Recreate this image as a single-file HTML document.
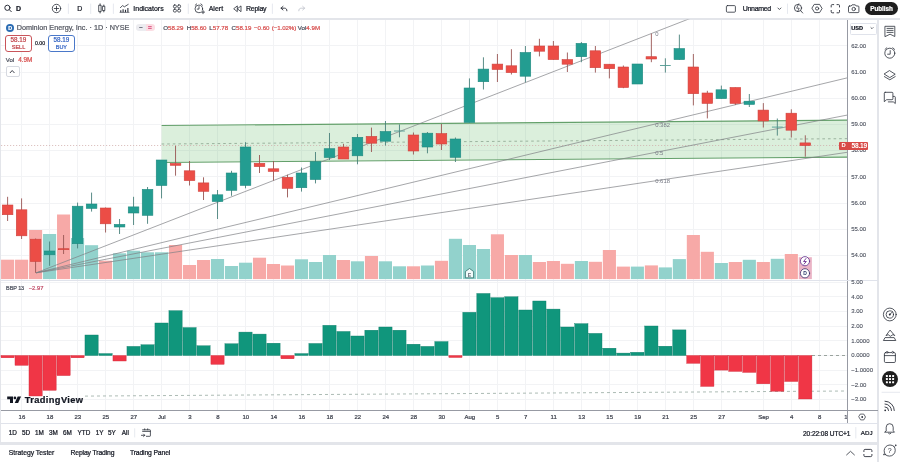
<!DOCTYPE html>
<html><head><meta charset="utf-8"><title>Chart</title>
<style>
html,body{margin:0;padding:0;background:#fff;}
body{width:900px;height:462px;position:relative;overflow:hidden;font-family:"Liberation Sans",sans-serif;}
.t{position:absolute;white-space:pre;-webkit-text-stroke:0.22px;}
.b{position:absolute;}
</style></head><body>
<!-- background bands -->
<div class="b" style="left:0;top:17.6px;width:900px;height:2.2px;background:#e3e5ea"></div>
<div class="b" style="left:0;top:19.5px;width:1.2px;height:422px;background:#e3e5ea"></div>
<div class="b" style="left:876.9px;top:17.6px;width:1.8px;height:445px;background:#e3e5ea"></div>
<div class="b" style="left:0;top:441.6px;width:878px;height:3.4px;background:#e3e5ea"></div>
<svg width="900" height="462" viewBox="0 0 900 462" style="position:absolute;left:0;top:0" font-family="Liberation Sans, sans-serif">
<defs><clipPath id="cp"><rect x="1" y="19.5" width="846.5" height="391"/></clipPath><clipPath id="cm"><rect x="1" y="19.5" width="846.5" height="260"/></clipPath></defs>
<g stroke="#f2f3f5" stroke-width="1" shape-rendering="crispEdges">
<line x1="21.6" y1="19.5" x2="21.6" y2="410"/>
<line x1="49.6" y1="19.5" x2="49.6" y2="410"/>
<line x1="77.6" y1="19.5" x2="77.6" y2="410"/>
<line x1="105.6" y1="19.5" x2="105.6" y2="410"/>
<line x1="133.6" y1="19.5" x2="133.6" y2="410"/>
<line x1="161.5" y1="19.5" x2="161.5" y2="410"/>
<line x1="189.5" y1="19.5" x2="189.5" y2="410"/>
<line x1="217.5" y1="19.5" x2="217.5" y2="410"/>
<line x1="245.5" y1="19.5" x2="245.5" y2="410"/>
<line x1="273.5" y1="19.5" x2="273.5" y2="410"/>
<line x1="301.5" y1="19.5" x2="301.5" y2="410"/>
<line x1="329.5" y1="19.5" x2="329.5" y2="410"/>
<line x1="357.5" y1="19.5" x2="357.5" y2="410"/>
<line x1="385.5" y1="19.5" x2="385.5" y2="410"/>
<line x1="413.5" y1="19.5" x2="413.5" y2="410"/>
<line x1="441.4" y1="19.5" x2="441.4" y2="410"/>
<line x1="469.4" y1="19.5" x2="469.4" y2="410"/>
<line x1="497.4" y1="19.5" x2="497.4" y2="410"/>
<line x1="525.4" y1="19.5" x2="525.4" y2="410"/>
<line x1="553.4" y1="19.5" x2="553.4" y2="410"/>
<line x1="581.4" y1="19.5" x2="581.4" y2="410"/>
<line x1="609.4" y1="19.5" x2="609.4" y2="410"/>
<line x1="637.4" y1="19.5" x2="637.4" y2="410"/>
<line x1="665.4" y1="19.5" x2="665.4" y2="410"/>
<line x1="693.4" y1="19.5" x2="693.4" y2="410"/>
<line x1="721.3" y1="19.5" x2="721.3" y2="410"/>
<line x1="763.3" y1="19.5" x2="763.3" y2="410"/>
<line x1="791.3" y1="19.5" x2="791.3" y2="410"/>
<line x1="819.3" y1="19.5" x2="819.3" y2="410"/>
<line x1="1" y1="255.5" x2="847.5" y2="255.5"/>
<line x1="1" y1="229.3" x2="847.5" y2="229.3"/>
<line x1="1" y1="203.1" x2="847.5" y2="203.1"/>
<line x1="1" y1="176.9" x2="847.5" y2="176.9"/>
<line x1="1" y1="150.7" x2="847.5" y2="150.7"/>
<line x1="1" y1="124.5" x2="847.5" y2="124.5"/>
<line x1="1" y1="98.3" x2="847.5" y2="98.3"/>
<line x1="1" y1="72.1" x2="847.5" y2="72.1"/>
<line x1="1" y1="45.9" x2="847.5" y2="45.9"/>
<line x1="1" y1="399.4" x2="847.5" y2="399.4"/>
<line x1="1" y1="384.8" x2="847.5" y2="384.8"/>
<line x1="1" y1="370.1" x2="847.5" y2="370.1"/>
<line x1="1" y1="355.5" x2="847.5" y2="355.5"/>
<line x1="1" y1="340.9" x2="847.5" y2="340.9"/>
<line x1="1" y1="326.2" x2="847.5" y2="326.2"/>
<line x1="1" y1="311.6" x2="847.5" y2="311.6"/>
<line x1="1" y1="296.9" x2="847.5" y2="296.9"/>
<line x1="1" y1="282.2" x2="847.5" y2="282.2"/>
</g>
<g clip-path="url(#cm)">
<rect x="1.05" y="259.7" width="13.1" height="19.5" fill="#f7a9a7"/>
<rect x="15.04" y="259.7" width="13.1" height="19.5" fill="#f7a9a7"/>
<rect x="29.04" y="230" width="13.1" height="49.2" fill="#f7a9a7"/>
<rect x="43.04" y="234" width="13.1" height="45.2" fill="#92d2cc"/>
<rect x="57.03" y="214.5" width="13.1" height="64.7" fill="#f7a9a7"/>
<rect x="71.02" y="238" width="13.1" height="41.2" fill="#92d2cc"/>
<rect x="85.02" y="245.2" width="13.1" height="34.0" fill="#92d2cc"/>
<rect x="99.01" y="260.7" width="13.1" height="18.5" fill="#f7a9a7"/>
<rect x="113.01" y="253.3" width="13.1" height="25.9" fill="#92d2cc"/>
<rect x="127.01" y="250.7" width="13.1" height="28.5" fill="#92d2cc"/>
<rect x="141.00" y="252.3" width="13.1" height="26.9" fill="#92d2cc"/>
<rect x="154.99" y="252.3" width="13.1" height="26.9" fill="#92d2cc"/>
<rect x="168.99" y="245" width="13.1" height="34.2" fill="#f7a9a7"/>
<rect x="182.98" y="265" width="13.1" height="14.2" fill="#f7a9a7"/>
<rect x="196.98" y="260" width="13.1" height="19.2" fill="#f7a9a7"/>
<rect x="210.97" y="259" width="13.1" height="20.2" fill="#92d2cc"/>
<rect x="224.97" y="266" width="13.1" height="13.2" fill="#92d2cc"/>
<rect x="238.96" y="262.7" width="13.1" height="16.5" fill="#92d2cc"/>
<rect x="252.96" y="257.7" width="13.1" height="21.5" fill="#f7a9a7"/>
<rect x="266.95" y="264" width="13.1" height="15.2" fill="#f7a9a7"/>
<rect x="280.95" y="265.5" width="13.1" height="13.7" fill="#f7a9a7"/>
<rect x="294.94" y="259.3" width="13.1" height="19.9" fill="#92d2cc"/>
<rect x="308.94" y="262" width="13.1" height="17.2" fill="#92d2cc"/>
<rect x="322.94" y="255" width="13.1" height="24.2" fill="#92d2cc"/>
<rect x="336.93" y="260" width="13.1" height="19.2" fill="#f7a9a7"/>
<rect x="350.93" y="261.3" width="13.1" height="17.9" fill="#92d2cc"/>
<rect x="364.92" y="256" width="13.1" height="23.2" fill="#f7a9a7"/>
<rect x="378.91" y="261.3" width="13.1" height="17.9" fill="#92d2cc"/>
<rect x="392.91" y="266.3" width="13.1" height="12.9" fill="#92d2cc"/>
<rect x="406.90" y="266.3" width="13.1" height="12.9" fill="#f7a9a7"/>
<rect x="420.90" y="265.5" width="13.1" height="13.7" fill="#92d2cc"/>
<rect x="434.89" y="260.8" width="13.1" height="18.4" fill="#f7a9a7"/>
<rect x="448.89" y="238.8" width="13.1" height="40.4" fill="#92d2cc"/>
<rect x="462.88" y="245" width="13.1" height="34.2" fill="#92d2cc"/>
<rect x="476.88" y="249" width="13.1" height="30.2" fill="#92d2cc"/>
<rect x="490.88" y="234.3" width="13.1" height="44.9" fill="#f7a9a7"/>
<rect x="504.87" y="255" width="13.1" height="24.2" fill="#f7a9a7"/>
<rect x="518.87" y="255" width="13.1" height="24.2" fill="#92d2cc"/>
<rect x="532.86" y="262" width="13.1" height="17.2" fill="#f7a9a7"/>
<rect x="546.86" y="261" width="13.1" height="18.2" fill="#f7a9a7"/>
<rect x="560.85" y="263.8" width="13.1" height="15.4" fill="#f7a9a7"/>
<rect x="574.85" y="261" width="13.1" height="18.2" fill="#92d2cc"/>
<rect x="588.84" y="261.8" width="13.1" height="17.4" fill="#f7a9a7"/>
<rect x="602.84" y="250" width="13.1" height="29.2" fill="#f7a9a7"/>
<rect x="616.83" y="266.6" width="13.1" height="12.6" fill="#f7a9a7"/>
<rect x="630.83" y="266.6" width="13.1" height="12.6" fill="#92d2cc"/>
<rect x="644.82" y="265.4" width="13.1" height="13.8" fill="#f7a9a7"/>
<rect x="658.82" y="267.4" width="13.1" height="11.8" fill="#92d2cc"/>
<rect x="672.81" y="259.1" width="13.1" height="20.1" fill="#92d2cc"/>
<rect x="686.81" y="235" width="13.1" height="44.2" fill="#f7a9a7"/>
<rect x="700.80" y="251.8" width="13.1" height="27.4" fill="#f7a9a7"/>
<rect x="714.80" y="263" width="13.1" height="16.2" fill="#92d2cc"/>
<rect x="728.79" y="262" width="13.1" height="17.2" fill="#f7a9a7"/>
<rect x="742.79" y="259.8" width="13.1" height="19.4" fill="#92d2cc"/>
<rect x="756.78" y="262" width="13.1" height="17.2" fill="#f7a9a7"/>
<rect x="770.77" y="258.8" width="13.1" height="20.4" fill="#92d2cc"/>
<rect x="784.77" y="254" width="13.1" height="25.2" fill="#f7a9a7"/>
<rect x="798.76" y="257.2" width="13.1" height="22.0" fill="#eab4c6"/>
</g>
<g clip-path="url(#cm)">
<polygon points="161.6,125.5 847.5,120.2 847.5,157.1 161.6,162.5" fill="#4caf50" fill-opacity="0.2"/>
<line x1="161.6" y1="125.5" x2="847.5" y2="120.2" stroke="#64a06b" stroke-width="1.2"/>
<line x1="161.6" y1="162.5" x2="847.5" y2="157.1" stroke="#64a06b" stroke-width="1.1"/>
<line x1="161.6" y1="144.0" x2="847.5" y2="138.65" stroke="#8aa38e" stroke-width="0.8" stroke-dasharray="2.6 3"/>
<line x1="1" y1="145.5" x2="847.5" y2="145.5" stroke="#cfa9a8" stroke-width="0.7" stroke-dasharray="1.2 1.8"/>
<line x1="36.2" y1="272.8" x2="847.5" y2="-42.75" stroke="#7e8084" stroke-width="0.7"/>
<line x1="36.2" y1="272.8" x2="847.5" y2="77.79" stroke="#7e8084" stroke-width="0.7"/>
<line x1="36.2" y1="272.8" x2="847.5" y2="115.03" stroke="#7e8084" stroke-width="0.7"/>
<line x1="36.2" y1="272.8" x2="847.5" y2="152.26" stroke="#7e8084" stroke-width="0.7"/>
</g>
<g clip-path="url(#cm)">
<line x1="7.60" y1="196.8" x2="7.60" y2="221.0" stroke="#985552" stroke-width="0.9"/>
<rect x="2.30" y="205.0" width="10.6" height="9.7" fill="#ec4d46" stroke="#cf433e" stroke-width="0.6"/>
<line x1="21.59" y1="198.4" x2="21.59" y2="239.0" stroke="#985552" stroke-width="0.9"/>
<rect x="16.29" y="209.8" width="10.6" height="26.0" fill="#ec4d46" stroke="#cf433e" stroke-width="0.6"/>
<line x1="35.59" y1="238.5" x2="35.59" y2="272.9" stroke="#985552" stroke-width="0.9"/>
<rect x="30.29" y="239.2" width="10.6" height="22.3" fill="#ec4d46" stroke="#cf433e" stroke-width="0.6"/>
<line x1="49.59" y1="241.5" x2="49.59" y2="265.8" stroke="#47807a" stroke-width="0.9"/>
<rect x="44.29" y="251.0" width="10.6" height="3.8" fill="#239d91" stroke="#1f8a80" stroke-width="0.6"/>
<line x1="63.58" y1="235.0" x2="63.58" y2="254.0" stroke="#985552" stroke-width="0.9"/>
<rect x="58.28" y="248.7" width="10.6" height="1.0" fill="#ec4d46" stroke="#cf433e" stroke-width="0.6"/>
<line x1="77.57" y1="202.6" x2="77.57" y2="248.4" stroke="#47807a" stroke-width="0.9"/>
<rect x="72.27" y="206.2" width="10.6" height="37.5" fill="#239d91" stroke="#1f8a80" stroke-width="0.6"/>
<line x1="91.57" y1="192.6" x2="91.57" y2="211.6" stroke="#47807a" stroke-width="0.9"/>
<rect x="86.27" y="204.0" width="10.6" height="4.4" fill="#239d91" stroke="#1f8a80" stroke-width="0.6"/>
<line x1="105.56" y1="207.5" x2="105.56" y2="232.5" stroke="#985552" stroke-width="0.9"/>
<rect x="100.26" y="208.0" width="10.6" height="15.8" fill="#ec4d46" stroke="#cf433e" stroke-width="0.6"/>
<line x1="119.56" y1="219.0" x2="119.56" y2="234.0" stroke="#47807a" stroke-width="0.9"/>
<rect x="114.26" y="224.4" width="10.6" height="2.6" fill="#239d91" stroke="#1f8a80" stroke-width="0.6"/>
<line x1="133.56" y1="196.8" x2="133.56" y2="225.0" stroke="#47807a" stroke-width="0.9"/>
<rect x="128.25" y="206.9" width="10.6" height="6.1" fill="#239d91" stroke="#1f8a80" stroke-width="0.6"/>
<line x1="147.55" y1="187.0" x2="147.55" y2="223.8" stroke="#47807a" stroke-width="0.9"/>
<rect x="142.25" y="189.4" width="10.6" height="25.9" fill="#239d91" stroke="#1f8a80" stroke-width="0.6"/>
<line x1="161.54" y1="160.0" x2="161.54" y2="198.4" stroke="#47807a" stroke-width="0.9"/>
<rect x="156.24" y="160.0" width="10.6" height="25.5" fill="#239d91" stroke="#1f8a80" stroke-width="0.6"/>
<line x1="175.54" y1="145.8" x2="175.54" y2="175.7" stroke="#985552" stroke-width="0.9"/>
<rect x="170.24" y="163.4" width="10.6" height="1.9" fill="#ec4d46" stroke="#cf433e" stroke-width="0.6"/>
<line x1="189.53" y1="161.0" x2="189.53" y2="185.5" stroke="#985552" stroke-width="0.9"/>
<rect x="184.23" y="170.8" width="10.6" height="9.8" fill="#ec4d46" stroke="#cf433e" stroke-width="0.6"/>
<line x1="203.53" y1="177.3" x2="203.53" y2="200.0" stroke="#985552" stroke-width="0.9"/>
<rect x="198.23" y="182.9" width="10.6" height="8.4" fill="#ec4d46" stroke="#cf433e" stroke-width="0.6"/>
<line x1="217.52" y1="190.0" x2="217.52" y2="219.0" stroke="#47807a" stroke-width="0.9"/>
<rect x="212.22" y="194.8" width="10.6" height="6.7" fill="#239d91" stroke="#1f8a80" stroke-width="0.6"/>
<line x1="231.52" y1="170.8" x2="231.52" y2="195.8" stroke="#47807a" stroke-width="0.9"/>
<rect x="226.22" y="173.0" width="10.6" height="17.3" fill="#239d91" stroke="#1f8a80" stroke-width="0.6"/>
<line x1="245.51" y1="142.2" x2="245.51" y2="188.3" stroke="#47807a" stroke-width="0.9"/>
<rect x="240.21" y="147.0" width="10.6" height="38.4" fill="#239d91" stroke="#1f8a80" stroke-width="0.6"/>
<line x1="259.51" y1="155.0" x2="259.51" y2="173.0" stroke="#985552" stroke-width="0.9"/>
<rect x="254.21" y="163.3" width="10.6" height="3.3" fill="#ec4d46" stroke="#cf433e" stroke-width="0.6"/>
<line x1="273.50" y1="161.0" x2="273.50" y2="180.5" stroke="#985552" stroke-width="0.9"/>
<rect x="268.20" y="168.8" width="10.6" height="2.6" fill="#ec4d46" stroke="#cf433e" stroke-width="0.6"/>
<line x1="287.50" y1="174.7" x2="287.50" y2="197.4" stroke="#985552" stroke-width="0.9"/>
<rect x="282.20" y="177.3" width="10.6" height="11.0" fill="#ec4d46" stroke="#cf433e" stroke-width="0.6"/>
<line x1="301.50" y1="167.5" x2="301.50" y2="191.6" stroke="#47807a" stroke-width="0.9"/>
<rect x="296.19" y="173.0" width="10.6" height="14.7" fill="#239d91" stroke="#1f8a80" stroke-width="0.6"/>
<line x1="315.49" y1="152.0" x2="315.49" y2="183.4" stroke="#47807a" stroke-width="0.9"/>
<rect x="310.19" y="161.7" width="10.6" height="17.8" fill="#239d91" stroke="#1f8a80" stroke-width="0.6"/>
<line x1="329.49" y1="133.0" x2="329.49" y2="160.0" stroke="#47807a" stroke-width="0.9"/>
<rect x="324.19" y="148.7" width="10.6" height="8.8" fill="#239d91" stroke="#1f8a80" stroke-width="0.6"/>
<line x1="343.48" y1="143.8" x2="343.48" y2="159.0" stroke="#985552" stroke-width="0.9"/>
<rect x="338.18" y="147.0" width="10.6" height="12.0" fill="#ec4d46" stroke="#cf433e" stroke-width="0.6"/>
<line x1="357.48" y1="134.0" x2="357.48" y2="164.3" stroke="#47807a" stroke-width="0.9"/>
<rect x="352.18" y="137.3" width="10.6" height="18.5" fill="#239d91" stroke="#1f8a80" stroke-width="0.6"/>
<line x1="371.47" y1="127.6" x2="371.47" y2="152.0" stroke="#985552" stroke-width="0.9"/>
<rect x="366.17" y="136.4" width="10.6" height="6.8" fill="#ec4d46" stroke="#cf433e" stroke-width="0.6"/>
<line x1="385.46" y1="121.0" x2="385.46" y2="145.5" stroke="#47807a" stroke-width="0.9"/>
<rect x="380.16" y="131.5" width="10.6" height="9.7" fill="#239d91" stroke="#1f8a80" stroke-width="0.6"/>
<line x1="399.46" y1="124.4" x2="399.46" y2="137.3" stroke="#47807a" stroke-width="0.9"/>
<line x1="394.06" y1="131.0" x2="404.86" y2="131.0" stroke="#4f9a92" stroke-width="0.9"/>
<line x1="413.45" y1="132.5" x2="413.45" y2="154.5" stroke="#985552" stroke-width="0.9"/>
<rect x="408.15" y="135.0" width="10.6" height="16.0" fill="#ec4d46" stroke="#cf433e" stroke-width="0.6"/>
<line x1="427.45" y1="132.0" x2="427.45" y2="153.3" stroke="#47807a" stroke-width="0.9"/>
<rect x="422.15" y="133.2" width="10.6" height="13.8" fill="#239d91" stroke="#1f8a80" stroke-width="0.6"/>
<line x1="441.44" y1="124.0" x2="441.44" y2="150.0" stroke="#985552" stroke-width="0.9"/>
<rect x="436.14" y="133.6" width="10.6" height="10.4" fill="#ec4d46" stroke="#cf433e" stroke-width="0.6"/>
<line x1="455.44" y1="137.5" x2="455.44" y2="162.0" stroke="#47807a" stroke-width="0.9"/>
<rect x="450.14" y="139.0" width="10.6" height="18.3" fill="#239d91" stroke="#1f8a80" stroke-width="0.6"/>
<line x1="469.44" y1="78.4" x2="469.44" y2="122.4" stroke="#47807a" stroke-width="0.9"/>
<rect x="464.13" y="88.0" width="10.6" height="34.4" fill="#239d91" stroke="#1f8a80" stroke-width="0.6"/>
<line x1="483.43" y1="57.3" x2="483.43" y2="89.5" stroke="#47807a" stroke-width="0.9"/>
<rect x="478.13" y="69.1" width="10.6" height="12.6" fill="#239d91" stroke="#1f8a80" stroke-width="0.6"/>
<line x1="497.43" y1="54.0" x2="497.43" y2="82.0" stroke="#985552" stroke-width="0.9"/>
<rect x="492.12" y="64.1" width="10.6" height="5.4" fill="#ec4d46" stroke="#cf433e" stroke-width="0.6"/>
<line x1="511.42" y1="49.2" x2="511.42" y2="74.5" stroke="#985552" stroke-width="0.9"/>
<rect x="506.12" y="65.8" width="10.6" height="6.8" fill="#ec4d46" stroke="#cf433e" stroke-width="0.6"/>
<line x1="525.41" y1="46.0" x2="525.41" y2="82.3" stroke="#47807a" stroke-width="0.9"/>
<rect x="520.12" y="52.5" width="10.6" height="23.7" fill="#239d91" stroke="#1f8a80" stroke-width="0.6"/>
<line x1="539.41" y1="38.8" x2="539.41" y2="56.4" stroke="#985552" stroke-width="0.9"/>
<rect x="534.11" y="46.0" width="10.6" height="5.2" fill="#ec4d46" stroke="#cf433e" stroke-width="0.6"/>
<line x1="553.40" y1="41.0" x2="553.40" y2="59.6" stroke="#985552" stroke-width="0.9"/>
<rect x="548.11" y="46.0" width="10.6" height="13.6" fill="#ec4d46" stroke="#cf433e" stroke-width="0.6"/>
<line x1="567.40" y1="52.5" x2="567.40" y2="72.0" stroke="#985552" stroke-width="0.9"/>
<rect x="562.10" y="59.6" width="10.6" height="4.6" fill="#ec4d46" stroke="#cf433e" stroke-width="0.6"/>
<line x1="581.39" y1="42.0" x2="581.39" y2="62.2" stroke="#47807a" stroke-width="0.9"/>
<rect x="576.10" y="43.4" width="10.6" height="13.3" fill="#239d91" stroke="#1f8a80" stroke-width="0.6"/>
<line x1="595.39" y1="46.0" x2="595.39" y2="72.6" stroke="#985552" stroke-width="0.9"/>
<rect x="590.09" y="50.8" width="10.6" height="16.9" fill="#ec4d46" stroke="#cf433e" stroke-width="0.6"/>
<line x1="609.38" y1="64.2" x2="609.38" y2="78.4" stroke="#985552" stroke-width="0.9"/>
<rect x="604.09" y="64.2" width="10.6" height="4.5" fill="#ec4d46" stroke="#cf433e" stroke-width="0.6"/>
<line x1="623.38" y1="65.5" x2="623.38" y2="88.2" stroke="#985552" stroke-width="0.9"/>
<rect x="618.08" y="67.0" width="10.6" height="20.5" fill="#ec4d46" stroke="#cf433e" stroke-width="0.6"/>
<line x1="637.38" y1="64.0" x2="637.38" y2="84.0" stroke="#47807a" stroke-width="0.9"/>
<rect x="632.08" y="64.0" width="10.6" height="20.0" fill="#239d91" stroke="#1f8a80" stroke-width="0.6"/>
<line x1="651.37" y1="33.6" x2="651.37" y2="62.2" stroke="#985552" stroke-width="0.9"/>
<rect x="646.07" y="56.7" width="10.6" height="2.3" fill="#ec4d46" stroke="#cf433e" stroke-width="0.6"/>
<line x1="665.37" y1="58.3" x2="665.37" y2="72.6" stroke="#47807a" stroke-width="0.9"/>
<line x1="659.97" y1="65.5" x2="670.76" y2="65.5" stroke="#4f9a92" stroke-width="0.9"/>
<line x1="679.36" y1="34.6" x2="679.36" y2="59.6" stroke="#47807a" stroke-width="0.9"/>
<rect x="674.06" y="48.6" width="10.6" height="11.0" fill="#239d91" stroke="#1f8a80" stroke-width="0.6"/>
<line x1="693.36" y1="54.0" x2="693.36" y2="105.4" stroke="#985552" stroke-width="0.9"/>
<rect x="688.06" y="67.0" width="10.6" height="26.7" fill="#ec4d46" stroke="#cf433e" stroke-width="0.6"/>
<line x1="707.35" y1="90.8" x2="707.35" y2="118.4" stroke="#985552" stroke-width="0.9"/>
<rect x="702.05" y="93.0" width="10.6" height="10.4" fill="#ec4d46" stroke="#cf433e" stroke-width="0.6"/>
<line x1="721.35" y1="85.6" x2="721.35" y2="98.6" stroke="#47807a" stroke-width="0.9"/>
<rect x="716.05" y="89.8" width="10.6" height="8.8" fill="#239d91" stroke="#1f8a80" stroke-width="0.6"/>
<line x1="735.34" y1="87.5" x2="735.34" y2="105.0" stroke="#985552" stroke-width="0.9"/>
<rect x="730.04" y="87.5" width="10.6" height="15.9" fill="#ec4d46" stroke="#cf433e" stroke-width="0.6"/>
<line x1="749.34" y1="94.0" x2="749.34" y2="107.0" stroke="#47807a" stroke-width="0.9"/>
<rect x="744.04" y="101.2" width="10.6" height="3.2" fill="#239d91" stroke="#1f8a80" stroke-width="0.6"/>
<line x1="763.33" y1="103.1" x2="763.33" y2="127.5" stroke="#985552" stroke-width="0.9"/>
<rect x="758.03" y="110.1" width="10.6" height="10.9" fill="#ec4d46" stroke="#cf433e" stroke-width="0.6"/>
<line x1="777.32" y1="118.5" x2="777.32" y2="135.6" stroke="#47807a" stroke-width="0.9"/>
<line x1="771.92" y1="127.1" x2="782.72" y2="127.1" stroke="#4f9a92" stroke-width="0.9"/>
<line x1="791.32" y1="109.3" x2="791.32" y2="137.5" stroke="#985552" stroke-width="0.9"/>
<rect x="786.02" y="113.2" width="10.6" height="17.0" fill="#ec4d46" stroke="#cf433e" stroke-width="0.6"/>
<line x1="805.31" y1="135.3" x2="805.31" y2="156.7" stroke="#985552" stroke-width="0.9"/>
<rect x="800.01" y="142.9" width="10.6" height="2.7" fill="#ec4d46" stroke="#cf433e" stroke-width="0.6"/>
</g>
<g font-size="5.9" fill="#787b86">
<text x="655.2" y="35.5">0</text>
<text x="655.2" y="126.9">0.382</text>
<text x="655.2" y="155.1">0.5</text>
<text x="655.2" y="183.3">0.618</text>
</g>
<g>
<line x1="812" y1="355.5" x2="847.5" y2="355.5" stroke="#9aa39e" stroke-width="1" stroke-dasharray="3 3"/>
<line x1="85" y1="396.1" x2="847.5" y2="391" stroke="#a3b3ab" stroke-width="0.9" stroke-dasharray="3 3"/>
<rect x="1.00" y="355.5" width="13.2" height="2.3" fill="#f03646" stroke="#cf2a3b" stroke-width="0.4"/>
<rect x="14.99" y="355.5" width="13.2" height="9.8" fill="#f03646" stroke="#cf2a3b" stroke-width="0.4"/>
<rect x="28.99" y="355.5" width="13.2" height="40.5" fill="#f03646" stroke="#cf2a3b" stroke-width="0.4"/>
<rect x="42.98" y="355.5" width="13.2" height="34.8" fill="#f03646" stroke="#cf2a3b" stroke-width="0.4"/>
<rect x="56.98" y="355.5" width="13.2" height="20.1" fill="#f03646" stroke="#cf2a3b" stroke-width="0.4"/>
<rect x="70.97" y="355.5" width="13.2" height="2.3" fill="#f03646" stroke="#cf2a3b" stroke-width="0.4"/>
<rect x="84.97" y="335" width="13.2" height="20.5" fill="#10967c" stroke="#0b7a66" stroke-width="0.4"/>
<rect x="98.96" y="353.6" width="13.2" height="1.9" fill="#10967c" stroke="#0b7a66" stroke-width="0.4"/>
<rect x="112.96" y="355.5" width="13.2" height="5.5" fill="#f03646" stroke="#cf2a3b" stroke-width="0.4"/>
<rect x="126.96" y="346.4" width="13.2" height="9.1" fill="#10967c" stroke="#0b7a66" stroke-width="0.4"/>
<rect x="140.95" y="344.8" width="13.2" height="10.7" fill="#10967c" stroke="#0b7a66" stroke-width="0.4"/>
<rect x="154.94" y="323" width="13.2" height="32.5" fill="#10967c" stroke="#0b7a66" stroke-width="0.4"/>
<rect x="168.94" y="310.7" width="13.2" height="44.8" fill="#10967c" stroke="#0b7a66" stroke-width="0.4"/>
<rect x="182.94" y="327.6" width="13.2" height="27.9" fill="#10967c" stroke="#0b7a66" stroke-width="0.4"/>
<rect x="196.93" y="345.8" width="13.2" height="9.7" fill="#10967c" stroke="#0b7a66" stroke-width="0.4"/>
<rect x="210.92" y="355.5" width="13.2" height="8.8" fill="#f03646" stroke="#cf2a3b" stroke-width="0.4"/>
<rect x="224.92" y="343.8" width="13.2" height="11.7" fill="#10967c" stroke="#0b7a66" stroke-width="0.4"/>
<rect x="238.91" y="332.1" width="13.2" height="23.4" fill="#10967c" stroke="#0b7a66" stroke-width="0.4"/>
<rect x="252.91" y="334.1" width="13.2" height="21.4" fill="#10967c" stroke="#0b7a66" stroke-width="0.4"/>
<rect x="266.90" y="343.2" width="13.2" height="12.3" fill="#10967c" stroke="#0b7a66" stroke-width="0.4"/>
<rect x="280.90" y="355.5" width="13.2" height="3.3" fill="#f03646" stroke="#cf2a3b" stroke-width="0.4"/>
<rect x="294.89" y="353.6" width="13.2" height="1.9" fill="#10967c" stroke="#0b7a66" stroke-width="0.4"/>
<rect x="308.89" y="343.5" width="13.2" height="12.0" fill="#10967c" stroke="#0b7a66" stroke-width="0.4"/>
<rect x="322.88" y="325.3" width="13.2" height="30.2" fill="#10967c" stroke="#0b7a66" stroke-width="0.4"/>
<rect x="336.88" y="331.5" width="13.2" height="24.0" fill="#10967c" stroke="#0b7a66" stroke-width="0.4"/>
<rect x="350.88" y="336" width="13.2" height="19.5" fill="#10967c" stroke="#0b7a66" stroke-width="0.4"/>
<rect x="364.87" y="330.2" width="13.2" height="25.3" fill="#10967c" stroke="#0b7a66" stroke-width="0.4"/>
<rect x="378.86" y="327" width="13.2" height="28.5" fill="#10967c" stroke="#0b7a66" stroke-width="0.4"/>
<rect x="392.86" y="330.2" width="13.2" height="25.3" fill="#10967c" stroke="#0b7a66" stroke-width="0.4"/>
<rect x="406.85" y="344.2" width="13.2" height="11.3" fill="#10967c" stroke="#0b7a66" stroke-width="0.4"/>
<rect x="420.85" y="346.4" width="13.2" height="9.1" fill="#10967c" stroke="#0b7a66" stroke-width="0.4"/>
<rect x="434.84" y="341.6" width="13.2" height="13.9" fill="#10967c" stroke="#0b7a66" stroke-width="0.4"/>
<rect x="448.84" y="355.5" width="13.2" height="2.0" fill="#f03646" stroke="#cf2a3b" stroke-width="0.4"/>
<rect x="462.83" y="312.3" width="13.2" height="43.2" fill="#10967c" stroke="#0b7a66" stroke-width="0.4"/>
<rect x="476.83" y="293.5" width="13.2" height="62.0" fill="#10967c" stroke="#0b7a66" stroke-width="0.4"/>
<rect x="490.82" y="297.7" width="13.2" height="57.8" fill="#10967c" stroke="#0b7a66" stroke-width="0.4"/>
<rect x="504.82" y="296.8" width="13.2" height="58.7" fill="#10967c" stroke="#0b7a66" stroke-width="0.4"/>
<rect x="518.81" y="310" width="13.2" height="45.5" fill="#10967c" stroke="#0b7a66" stroke-width="0.4"/>
<rect x="532.81" y="301" width="13.2" height="54.5" fill="#10967c" stroke="#0b7a66" stroke-width="0.4"/>
<rect x="546.80" y="309.1" width="13.2" height="46.4" fill="#10967c" stroke="#0b7a66" stroke-width="0.4"/>
<rect x="560.80" y="327" width="13.2" height="28.5" fill="#10967c" stroke="#0b7a66" stroke-width="0.4"/>
<rect x="574.79" y="323.7" width="13.2" height="31.8" fill="#10967c" stroke="#0b7a66" stroke-width="0.4"/>
<rect x="588.79" y="333.4" width="13.2" height="22.1" fill="#10967c" stroke="#0b7a66" stroke-width="0.4"/>
<rect x="602.78" y="348.2" width="13.2" height="7.3" fill="#10967c" stroke="#0b7a66" stroke-width="0.4"/>
<rect x="616.78" y="353.1" width="13.2" height="2.4" fill="#10967c" stroke="#0b7a66" stroke-width="0.4"/>
<rect x="630.77" y="352.3" width="13.2" height="3.2" fill="#10967c" stroke="#0b7a66" stroke-width="0.4"/>
<rect x="644.77" y="326" width="13.2" height="29.5" fill="#10967c" stroke="#0b7a66" stroke-width="0.4"/>
<rect x="658.76" y="346.2" width="13.2" height="9.3" fill="#10967c" stroke="#0b7a66" stroke-width="0.4"/>
<rect x="672.76" y="329.9" width="13.2" height="25.6" fill="#10967c" stroke="#0b7a66" stroke-width="0.4"/>
<rect x="686.75" y="355.5" width="13.2" height="7.8" fill="#f03646" stroke="#cf2a3b" stroke-width="0.4"/>
<rect x="700.75" y="355.5" width="13.2" height="30.9" fill="#f03646" stroke="#cf2a3b" stroke-width="0.4"/>
<rect x="714.75" y="355.5" width="13.2" height="14.6" fill="#f03646" stroke="#cf2a3b" stroke-width="0.4"/>
<rect x="728.74" y="355.5" width="13.2" height="15.9" fill="#f03646" stroke="#cf2a3b" stroke-width="0.4"/>
<rect x="742.74" y="355.5" width="13.2" height="16.9" fill="#f03646" stroke="#cf2a3b" stroke-width="0.4"/>
<rect x="756.73" y="355.5" width="13.2" height="28.3" fill="#f03646" stroke="#cf2a3b" stroke-width="0.4"/>
<rect x="770.72" y="355.5" width="13.2" height="35.7" fill="#f03646" stroke="#cf2a3b" stroke-width="0.4"/>
<rect x="784.72" y="355.5" width="13.2" height="26.0" fill="#f03646" stroke="#cf2a3b" stroke-width="0.4"/>
<rect x="798.71" y="355.5" width="13.2" height="43.5" fill="#f03646" stroke="#cf2a3b" stroke-width="0.4"/>
</g>
</svg>
<!-- axis lines -->
<div class="b" style="left:847px;top:19.5px;width:1px;height:404px;background:#979aa3"></div>
<div class="b" style="left:1px;top:410px;width:876.5px;height:1px;background:#979aa3"></div>
<div class="b" style="left:1px;top:279.5px;width:876.5px;height:1px;background:#e0e3eb"></div>
<div class="b" style="left:1px;top:423px;width:876.5px;height:1px;background:#e0e3eb"></div>
<!-- price tag -->
<div class="b" style="left:839px;top:141.9px;width:29px;height:7.8px;background:#d84a47;border-radius:1px;z-index:2"></div>
<!-- sell buy boxes -->
<div class="b" style="left:5.3px;top:35.3px;width:24.8px;height:14.4px;border:0.8px solid #c9545a;border-radius:3px;background:#fff"></div>
<div class="b" style="left:48.3px;top:35.3px;width:24.6px;height:14.4px;border:0.8px solid #4a78c9;border-radius:3px;background:#fff"></div>
<div class="b" style="left:5.6px;top:66.4px;width:12.6px;height:9px;border:0.7px solid #d6d9e0;border-radius:2px;background:#fff"></div>
<!-- legend pill -->
<div class="b" style="left:136px;top:24.3px;width:9.5px;height:6.4px;background:#ececf0;border-radius:3.2px 0 0 3.2px"></div>
<div class="b" style="left:145.5px;top:24.3px;width:9.5px;height:6.4px;background:#fbdde3;border-radius:0 3.2px 3.2px 0"></div>
<!-- USD box -->
<div class="b" style="left:849.6px;top:22.8px;width:25.4px;height:10.4px;border:0.6px solid #e0e3eb;border-radius:1.5px"></div>
<!-- publish -->
<div class="b" style="left:865px;top:2.2px;width:32.8px;height:13px;background:#1e1e1e;border-radius:6.5px"></div>
<!-- symbol logo -->
<div class="b" style="left:5.9px;top:23.5px;width:8.4px;height:8.4px;background:#2b6cb3;border-radius:50%"></div>
<span class="t" style="left:8.3px;top:24.5px;font-size:5.5px;line-height:6.6px;color:#fff;font-weight:700">D</span>
<span class="t" style="left:16px;top:4.90px;font-size:7px;line-height:8.40px;color:#131722;font-weight:700;letter-spacing:0px;">D</span>
<span class="t" style="left:77.3px;top:4.90px;font-size:7px;line-height:8.40px;color:#131722;font-weight:400;letter-spacing:0px;">D</span>
<span class="t" style="left:133.3px;top:4.90px;font-size:7px;line-height:8.40px;color:#131722;font-weight:400;letter-spacing:0px;">Indicators</span>
<span class="t" style="left:208.7px;top:4.90px;font-size:7px;line-height:8.40px;color:#131722;font-weight:400;letter-spacing:0px;">Alert</span>
<span class="t" style="left:246px;top:4.90px;font-size:7px;line-height:8.40px;color:#131722;font-weight:400;letter-spacing:-0.25px;">Replay</span>
<span class="t" style="left:742.7px;top:5.00px;font-size:7px;line-height:8.40px;color:#131722;font-weight:400;letter-spacing:-0.3px;">Unnamed</span>
<span class="t" style="left:16.7px;top:23.75px;font-size:7.25px;line-height:8.70px;color:#555862;font-weight:400;letter-spacing:0px;">Dominion Energy, Inc. · 1D · NYSE</span>
<span class="t" style="left:163.3px;top:24.3px;font-size:6.15px;line-height:7.2px;letter-spacing:0px"><span style="color:#4a4f5c">O</span><span style="color:#d8504f">58.29</span></span>
<span class="t" style="left:186.7px;top:24.3px;font-size:6.15px;line-height:7.2px;letter-spacing:0px"><span style="color:#4a4f5c">H</span><span style="color:#d8504f">58.60</span></span>
<span class="t" style="left:209.3px;top:24.3px;font-size:6.15px;line-height:7.2px;letter-spacing:0px"><span style="color:#4a4f5c">L</span><span style="color:#d8504f">57.78</span></span>
<span class="t" style="left:231.6px;top:24.3px;font-size:6.15px;line-height:7.2px;letter-spacing:0px"><span style="color:#4a4f5c">C</span><span style="color:#d8504f">58.19</span></span>
<span class="t" style="left:254px;top:24.3px;font-size:6.15px;line-height:7.2px;letter-spacing:0px"><span style="color:#d8504f">−0.60</span></span>
<span class="t" style="left:271.8px;top:24.3px;font-size:6.15px;line-height:7.2px;letter-spacing:-0.1px"><span style="color:#d8504f">(−1.02%)</span></span>
<span class="t" style="left:297.8px;top:24.3px;font-size:6.15px;line-height:7.2px;letter-spacing:0px"><span style="color:#4a4f5c">Vol</span><span style="color:#d8504f">4.9M</span></span>
<span class="t" style="left:-31.5px;width:100px;text-align:center;top:36.42px;font-size:6.3px;line-height:7.56px;color:#c2454b;font-weight:400;letter-spacing:0px">58.19</span>
<span class="t" style="left:-31.5px;width:100px;text-align:center;top:43.90px;font-size:5.5px;line-height:6.60px;color:#c2454b;font-weight:400;letter-spacing:0px">SELL</span>
<span class="t" style="left:-10px;width:100px;text-align:center;top:39.88px;font-size:5.2px;line-height:6.24px;color:#131722;font-weight:400;letter-spacing:0px">0.00</span>
<span class="t" style="left:11.399999999999999px;width:100px;text-align:center;top:36.42px;font-size:6.3px;line-height:7.56px;color:#3565c4;font-weight:400;letter-spacing:0px">58.19</span>
<span class="t" style="left:11.399999999999999px;width:100px;text-align:center;top:43.90px;font-size:5.5px;line-height:6.60px;color:#3565c4;font-weight:400;letter-spacing:0px">BUY</span>
<span class="t" style="left:5.8px;top:56.50px;font-size:6px;line-height:7.20px;color:#4a4f5c;font-weight:400;letter-spacing:0px;">Vol</span>
<span class="t" style="left:18.2px;top:56.26px;font-size:6.4px;line-height:7.68px;color:#d8504f;font-weight:400;letter-spacing:0px;">4.9M</span>
<span class="t" style="left:6.1px;top:284.90px;font-size:5.5px;line-height:6.60px;color:#4a4f5c;font-weight:400;letter-spacing:-0.1px;">BBP 13</span>
<span class="t" style="left:28.7px;top:284.72px;font-size:5.8px;line-height:6.96px;color:#c2506a;font-weight:400;letter-spacing:0px;">−2.97</span>
<span class="t" style="left:851.2px;top:252.10px;font-size:6px;line-height:7.20px;color:#4a4f5c;font-weight:400;letter-spacing:0px;-webkit-text-stroke:0.1px;">54.00</span>
<span class="t" style="left:851.2px;top:225.90px;font-size:6px;line-height:7.20px;color:#4a4f5c;font-weight:400;letter-spacing:0px;-webkit-text-stroke:0.1px;">55.00</span>
<span class="t" style="left:851.2px;top:199.70px;font-size:6px;line-height:7.20px;color:#4a4f5c;font-weight:400;letter-spacing:0px;-webkit-text-stroke:0.1px;">56.00</span>
<span class="t" style="left:851.2px;top:173.50px;font-size:6px;line-height:7.20px;color:#4a4f5c;font-weight:400;letter-spacing:0px;-webkit-text-stroke:0.1px;">57.00</span>
<span class="t" style="left:851.2px;top:121.10px;font-size:6px;line-height:7.20px;color:#4a4f5c;font-weight:400;letter-spacing:0px;-webkit-text-stroke:0.1px;">59.00</span>
<span class="t" style="left:851.2px;top:94.90px;font-size:6px;line-height:7.20px;color:#4a4f5c;font-weight:400;letter-spacing:0px;-webkit-text-stroke:0.1px;">60.00</span>
<span class="t" style="left:851.2px;top:68.70px;font-size:6px;line-height:7.20px;color:#4a4f5c;font-weight:400;letter-spacing:0px;-webkit-text-stroke:0.1px;">61.00</span>
<span class="t" style="left:851.2px;top:42.50px;font-size:6px;line-height:7.20px;color:#4a4f5c;font-weight:400;letter-spacing:0px;-webkit-text-stroke:0.1px;">62.00</span>
<span class="t" style="left:851.2px;top:147.30px;font-size:6px;line-height:7.20px;color:#4a4f5c;font-weight:400;letter-spacing:0px;-webkit-text-stroke:0.1px;">58.00</span>
<span class="t" style="left:851.2px;top:278.95px;font-size:6px;line-height:7.20px;color:#4a4f5c;font-weight:400;letter-spacing:0px;-webkit-text-stroke:0.1px;">5.00</span>
<span class="t" style="left:851.2px;top:293.60px;font-size:6px;line-height:7.20px;color:#4a4f5c;font-weight:400;letter-spacing:0px;-webkit-text-stroke:0.1px;">4.00</span>
<span class="t" style="left:851.2px;top:308.25px;font-size:6px;line-height:7.20px;color:#4a4f5c;font-weight:400;letter-spacing:0px;-webkit-text-stroke:0.1px;">3.00</span>
<span class="t" style="left:851.2px;top:322.90px;font-size:6px;line-height:7.20px;color:#4a4f5c;font-weight:400;letter-spacing:0px;-webkit-text-stroke:0.1px;">2.00</span>
<span class="t" style="left:851.2px;top:337.55px;font-size:6px;line-height:7.20px;color:#4a4f5c;font-weight:400;letter-spacing:0px;-webkit-text-stroke:0.1px;">1.0000</span>
<span class="t" style="left:851.2px;top:352.20px;font-size:6px;line-height:7.20px;color:#4a4f5c;font-weight:400;letter-spacing:0px;-webkit-text-stroke:0.1px;">0.0000</span>
<span class="t" style="left:851.2px;top:366.85px;font-size:6px;line-height:7.20px;color:#4a4f5c;font-weight:400;letter-spacing:0px;-webkit-text-stroke:0.1px;">−1.0000</span>
<span class="t" style="left:851.2px;top:381.50px;font-size:6px;line-height:7.20px;color:#4a4f5c;font-weight:400;letter-spacing:0px;-webkit-text-stroke:0.1px;">−2.00</span>
<span class="t" style="left:851.2px;top:396.15px;font-size:6px;line-height:7.20px;color:#4a4f5c;font-weight:400;letter-spacing:0px;-webkit-text-stroke:0.1px;">−3.00</span>
<span class="t" style="left:851.3px;top:25.04px;font-size:5.6px;line-height:6.72px;color:#131722;font-weight:700;letter-spacing:0px;">USD</span>
<span class="t" style="left:-28.105px;width:100px;text-align:center;top:413.50px;font-size:6px;line-height:7.20px;color:#3f434e;font-weight:400;letter-spacing:0px">16</span>
<span class="t" style="left:-0.11500000000000199px;width:100px;text-align:center;top:413.50px;font-size:6px;line-height:7.20px;color:#3f434e;font-weight:400;letter-spacing:0px">18</span>
<span class="t" style="left:27.874999999999986px;width:100px;text-align:center;top:413.50px;font-size:6px;line-height:7.20px;color:#3f434e;font-weight:400;letter-spacing:0px">23</span>
<span class="t" style="left:55.86499999999998px;width:100px;text-align:center;top:413.50px;font-size:6px;line-height:7.20px;color:#3f434e;font-weight:400;letter-spacing:0px">25</span>
<span class="t" style="left:83.85500000000002px;width:100px;text-align:center;top:413.50px;font-size:6px;line-height:7.20px;color:#3f434e;font-weight:400;letter-spacing:0px">27</span>
<span class="t" style="left:111.845px;width:100px;text-align:center;top:413.50px;font-size:6px;line-height:7.20px;color:#3f434e;font-weight:400;letter-spacing:0px">Jul</span>
<span class="t" style="left:139.835px;width:100px;text-align:center;top:413.50px;font-size:6px;line-height:7.20px;color:#3f434e;font-weight:400;letter-spacing:0px">3</span>
<span class="t" style="left:167.825px;width:100px;text-align:center;top:413.50px;font-size:6px;line-height:7.20px;color:#3f434e;font-weight:400;letter-spacing:0px">8</span>
<span class="t" style="left:195.815px;width:100px;text-align:center;top:413.50px;font-size:6px;line-height:7.20px;color:#3f434e;font-weight:400;letter-spacing:0px">10</span>
<span class="t" style="left:223.805px;width:100px;text-align:center;top:413.50px;font-size:6px;line-height:7.20px;color:#3f434e;font-weight:400;letter-spacing:0px">14</span>
<span class="t" style="left:251.79500000000002px;width:100px;text-align:center;top:413.50px;font-size:6px;line-height:7.20px;color:#3f434e;font-weight:400;letter-spacing:0px">16</span>
<span class="t" style="left:279.785px;width:100px;text-align:center;top:413.50px;font-size:6px;line-height:7.20px;color:#3f434e;font-weight:400;letter-spacing:0px">18</span>
<span class="t" style="left:307.77500000000003px;width:100px;text-align:center;top:413.50px;font-size:6px;line-height:7.20px;color:#3f434e;font-weight:400;letter-spacing:0px">22</span>
<span class="t" style="left:335.765px;width:100px;text-align:center;top:413.50px;font-size:6px;line-height:7.20px;color:#3f434e;font-weight:400;letter-spacing:0px">24</span>
<span class="t" style="left:363.755px;width:100px;text-align:center;top:413.50px;font-size:6px;line-height:7.20px;color:#3f434e;font-weight:400;letter-spacing:0px">28</span>
<span class="t" style="left:391.745px;width:100px;text-align:center;top:413.50px;font-size:6px;line-height:7.20px;color:#3f434e;font-weight:400;letter-spacing:0px">30</span>
<span class="t" style="left:419.735px;width:100px;text-align:center;top:413.50px;font-size:6px;line-height:7.20px;color:#3f434e;font-weight:400;letter-spacing:0px">Aug</span>
<span class="t" style="left:447.725px;width:100px;text-align:center;top:413.50px;font-size:6px;line-height:7.20px;color:#3f434e;font-weight:400;letter-spacing:0px">5</span>
<span class="t" style="left:475.7149999999999px;width:100px;text-align:center;top:413.50px;font-size:6px;line-height:7.20px;color:#3f434e;font-weight:400;letter-spacing:0px">7</span>
<span class="t" style="left:503.7049999999999px;width:100px;text-align:center;top:413.50px;font-size:6px;line-height:7.20px;color:#3f434e;font-weight:400;letter-spacing:0px">11</span>
<span class="t" style="left:531.6949999999999px;width:100px;text-align:center;top:413.50px;font-size:6px;line-height:7.20px;color:#3f434e;font-weight:400;letter-spacing:0px">13</span>
<span class="t" style="left:559.685px;width:100px;text-align:center;top:413.50px;font-size:6px;line-height:7.20px;color:#3f434e;font-weight:400;letter-spacing:0px">15</span>
<span class="t" style="left:587.675px;width:100px;text-align:center;top:413.50px;font-size:6px;line-height:7.20px;color:#3f434e;font-weight:400;letter-spacing:0px">19</span>
<span class="t" style="left:615.665px;width:100px;text-align:center;top:413.50px;font-size:6px;line-height:7.20px;color:#3f434e;font-weight:400;letter-spacing:0px">21</span>
<span class="t" style="left:643.655px;width:100px;text-align:center;top:413.50px;font-size:6px;line-height:7.20px;color:#3f434e;font-weight:400;letter-spacing:0px">25</span>
<span class="t" style="left:671.645px;width:100px;text-align:center;top:413.50px;font-size:6px;line-height:7.20px;color:#3f434e;font-weight:400;letter-spacing:0px">27</span>
<span class="t" style="left:713.6299999999999px;width:100px;text-align:center;top:413.50px;font-size:6px;line-height:7.20px;color:#3f434e;font-weight:400;letter-spacing:0px">Sep</span>
<span class="t" style="left:741.6199999999999px;width:100px;text-align:center;top:413.50px;font-size:6px;line-height:7.20px;color:#3f434e;font-weight:400;letter-spacing:0px">4</span>
<span class="t" style="left:769.6099999999999px;width:100px;text-align:center;top:413.50px;font-size:6px;line-height:7.20px;color:#3f434e;font-weight:400;letter-spacing:0px">8</span>
<div class="b" style="left:830px;top:411px;width:17px;height:12px;overflow:hidden"><span class="t" style="left:14.3px;top:2.9px;font-size:6px;line-height:7.2px;color:#4a4f5c">10</span></div>
<span class="t" style="left:8.8px;top:429.16px;font-size:6.4px;line-height:7.68px;color:#131722;font-weight:400;letter-spacing:0px;">1D</span>
<span class="t" style="left:22px;top:429.16px;font-size:6.4px;line-height:7.68px;color:#131722;font-weight:400;letter-spacing:0px;">5D</span>
<span class="t" style="left:35px;top:429.16px;font-size:6.4px;line-height:7.68px;color:#131722;font-weight:400;letter-spacing:0px;">1M</span>
<span class="t" style="left:49px;top:429.16px;font-size:6.4px;line-height:7.68px;color:#131722;font-weight:400;letter-spacing:0px;">3M</span>
<span class="t" style="left:63px;top:429.16px;font-size:6.4px;line-height:7.68px;color:#131722;font-weight:400;letter-spacing:0px;">6M</span>
<span class="t" style="left:77.5px;top:429.16px;font-size:6.4px;line-height:7.68px;color:#131722;font-weight:400;letter-spacing:0px;">YTD</span>
<span class="t" style="left:95.8px;top:429.16px;font-size:6.4px;line-height:7.68px;color:#131722;font-weight:400;letter-spacing:0px;">1Y</span>
<span class="t" style="left:108px;top:429.16px;font-size:6.4px;line-height:7.68px;color:#131722;font-weight:400;letter-spacing:0px;">5Y</span>
<span class="t" style="left:121.8px;top:429.16px;font-size:6.4px;line-height:7.68px;color:#131722;font-weight:400;letter-spacing:0px;">All</span>
<span class="t" style="left:803px;top:429.54px;font-size:6.6px;line-height:7.92px;color:#131722;font-weight:400;letter-spacing:-0.08px;">20:22:08 UTC+1</span>
<span class="t" style="left:860.8px;top:429.28px;font-size:6.2px;line-height:7.44px;color:#131722;font-weight:400;letter-spacing:0px;">ADJ</span>
<span class="t" style="left:8.8px;top:448.92px;font-size:6.8px;line-height:8.16px;color:#131722;font-weight:400;letter-spacing:0px;">Strategy Tester</span>
<span class="t" style="left:70.5px;top:448.92px;font-size:6.8px;line-height:8.16px;color:#131722;font-weight:400;letter-spacing:-0.13px;">Replay Trading</span>
<span class="t" style="left:130px;top:448.92px;font-size:6.8px;line-height:8.16px;color:#131722;font-weight:400;letter-spacing:-0.15px;">Trading Panel</span>
<span class="t" style="left:831.6px;width:100px;text-align:center;top:5.32px;font-size:6.3px;line-height:7.56px;color:#fff;font-weight:700;letter-spacing:0px">Publish</span>
<span class="t" style="left:24.8px;top:395.02px;font-size:9.3px;line-height:11.16px;color:#131722;font-weight:700;letter-spacing:0.36px;">TradingView</span>
<span class="t" style="left:851.6px;top:141.99px;font-size:6.6px;line-height:7.92px;color:#fff;font-weight:700;letter-spacing:-0.25px;z-index:3;-webkit-text-stroke:0;">58.19</span>
<span class="t" style="left:841.5px;top:142.47px;font-size:5.8px;line-height:6.96px;color:#fff;font-weight:700;letter-spacing:0px;z-index:3;-webkit-text-stroke:0;">D</span>
<svg width="900" height="462" viewBox="0 0 900 462" style="position:absolute;left:0;top:0;pointer-events:none" fill="none" stroke="#2a2e39" stroke-width="0.9" stroke-linecap="round" stroke-linejoin="round" font-family="Liberation Sans, sans-serif">
<g stroke="#e0e3eb" stroke-width="0.8">
<line x1="68.4" y1="4" x2="68.4" y2="13.5"/>
<line x1="90.7" y1="4" x2="90.7" y2="13.5"/>
<line x1="113.4" y1="4" x2="113.4" y2="13.5"/>
<line x1="188.3" y1="4" x2="188.3" y2="13.5"/>
<line x1="272.4" y1="4" x2="272.4" y2="13.5"/>
<line x1="787.5" y1="4" x2="787.5" y2="13.5"/>
<line x1="134.7" y1="428.7" x2="134.7" y2="437" /><line x1="855.8" y1="427.5" x2="855.8" y2="438"/>
<line x1="882" y1="392.3" x2="900" y2="392.3"/>
</g>
<circle cx="7.4" cy="7.8" r="2.6" stroke-width="1"/><line x1="9.4" y1="9.8" x2="11.3" y2="11.7" stroke-width="1"/>
<circle cx="56.5" cy="8.5" r="4.2" stroke-width="0.8"/><path d="M54.3 8.5h4.4M56.5 6.3v4.4" stroke-width="0.8"/>
<rect x="99.1" y="5.2" width="2" height="6.5" stroke-width="0.8"/><path d="M100.1 3.8v1.4M100.1 11.7v1.3" stroke-width="0.8"/>
<rect x="102.8" y="6.2" width="2" height="4.4" stroke-width="0.8"/><path d="M103.8 5v1.2M103.8 10.6v1.3" stroke-width="0.8"/>
<path d="M120.4 7.6l2.2-2 1.8 1.2 3.8-2.4" stroke-width="0.8"/>
<path d="M120.8 12.3v-2M123.1 12.3v-3M125.5 12.3v-2.6M127.9 12.3v-4.4" stroke-width="1.1" stroke-linecap="butt"/>
<path d="M120 12.4h9" stroke-width="0.6"/>
<rect x="173.45000000000002" y="4.95" width="2.9" height="2.9" rx="1.1" stroke-width="0.8"/>
<rect x="177.65" y="4.95" width="2.9" height="2.9" rx="1.1" stroke-width="0.8"/>
<rect x="173.45000000000002" y="9.15" width="2.9" height="2.9" rx="1.1" stroke-width="0.8"/>
<rect x="177.65" y="9.15" width="2.9" height="2.9" rx="1.1" stroke-width="0.8"/>
<circle cx="198.8" cy="8.9" r="3.8" stroke-width="0.8"/><path d="M199 6.6v2.5h-1.8" stroke-width="0.8"/><path d="M195.2 5.2l1.5-1.3M202.4 5.2l-1.5-1.3" stroke-width="0.8"/>
<circle cx="203" cy="12.1" r="2.1" fill="#fff" stroke="none"/><path d="M201.4 12.1h3.2M203 10.5v3.2" stroke-width="0.8"/>
<path d="M237.3 6.3v5.4l-3.3-2.7z" stroke-width="0.8"/><path d="M241 6.3v5.4l-3.3-2.7z" stroke-width="0.8"/>
<path d="M283 6.4l-2 1.8 2 1.8M281 8.2h3.6c1.5 0 2.3 1 2.3 2.6" stroke-width="0.9"/>
<path d="M302.7 6.4l2 1.8-2 1.8M304.7 8.2h-3.6c-1.5 0-2.3 1-2.3 2.6" stroke-width="0.9" stroke="#c4c7cf"/>
<rect x="726.4" y="5.6" width="9" height="6.6" rx="1" stroke-width="0.8"/>
<path d="M777.9 8l1.5 1.5 1.5-1.5" stroke-width="0.8"/>
<circle cx="798" cy="8" r="3.6" stroke-width="0.8"/><path d="M800.7 10.7l2 2.3" stroke-width="0.8"/><path d="M798.8 3.7l-2.2 4.5h2.6l-1.6 3.4" stroke-width="0.7" fill="#fff"/>
<path d="M814.6 4.4h5l2.5 4.1-2.5 4.1h-5l-2.5-4.1z" stroke-width="0.8"/><circle cx="817.1" cy="8.5" r="1.6" stroke-width="0.8"/>
<path d="M831.2 7v-1.4q0-1 1-1h1.5M837 4.6h1.5q1 0 1 1v1.4M839.5 10.4v1.4q0 1-1 1h-1.5M833.7 12.8h-1.5q-1 0-1-1v-1.4" stroke-width="0.9"/>
<path d="M849.4 6h1.8l0.9-1.2h3.2l0.9 1.2h1.8q0.9 0 0.9 0.9v4.8q0 0.9-0.9 0.9h-8.6q-0.9 0-0.9-0.9v-4.8q0-0.9 0.9-0.9z" stroke-width="0.8"/><circle cx="853.7" cy="9" r="1.7" stroke-width="0.8"/>
<path d="M139.6 27.5h2.6" stroke="#6a6d78" stroke-width="0.9"/><path d="M148.5 26.6h2.8M148.5 28.4h2.8" stroke="#d6336c" stroke-width="0.8"/>
<path d="M10.2 72.7l2-2.2 2 2.2" stroke-width="0.9"/>
<path d="M870.9 27.6l1.1 1.1 1.1-1.1" stroke-width="0.7"/>
<path d="M885.3 26.3h9.5v10.2l-4.75-2.3-4.75 2.3z" stroke-width="0.8"/><path d="M887 28.4h6.1M887 30.4h6.1M887 32.4h6.1" stroke-width="0.8"/>
<circle cx="889.8" cy="53.2" r="5" stroke-width="0.8"/><path d="M890.2 50.6v3.6h-2.6" stroke-width="0.8"/><path d="M885 49.4l1.8-1.6M894.6 49.4l-1.8-1.6" stroke-width="0.8"/>
<path d="M889.8 70.8l5.4 3.4-5.4 3.4-5.4-3.4z" stroke-width="0.8"/><path d="M884.4 76.6l5.4 3.2 5.4-3.2" stroke-width="0.8"/>
<path d="M892.8 96.4h1.6q0.9 0 0.9 0.9v6.2l-2-1.6h-5" stroke-width="0.8"/><path d="M885.2 92.3h6.8q0.9 0 0.9 0.9v5.6q0 0.9-0.9 0.9h-5.4l-2.3 2v-8.5q0-0.9 0.9-0.9z" stroke-width="0.8" fill="#fff"/>
<circle cx="889.8" cy="314.5" r="6.4" stroke-width="0.8"/><circle cx="889.8" cy="314.5" r="3.7" stroke-width="0.8"/><circle cx="889.8" cy="314.5" r="1" fill="#2a2e39" stroke="none"/><path d="M889.8 314.5l2.8-2.8" stroke-width="0.8"/>
<path d="M889.8 330.4l-3.8 5.2 2.2-0.9 2.2 1.6 2.6-1.7 1.4 0.8z" stroke-width="0.8"/><path d="M885.4 337.6h8.8l1.6 2.9h-12z" stroke-width="0.8"/>
<rect x="884.4" y="352.6" width="11" height="9.9" rx="1.2" stroke-width="0.8"/><path d="M884.4 355.6h11" stroke-width="0.8"/><circle cx="887.1" cy="352.3" r="0.9" fill="#fff" stroke-width="0.7"/><circle cx="892.7" cy="352.3" r="0.9" fill="#fff" stroke-width="0.7"/>
<circle cx="890" cy="379.1" r="8" fill="#1e1e1e" stroke="none"/>
<rect x="885.9" y="375.0" width="2" height="2" rx="0.5" fill="#fff" stroke="none"/>
<rect x="885.9" y="378.1" width="2" height="2" rx="0.5" fill="#fff" stroke="none"/>
<rect x="885.9" y="381.2" width="2" height="2" rx="0.5" fill="#fff" stroke="none"/>
<rect x="889.0" y="375.0" width="2" height="2" rx="0.5" fill="#fff" stroke="none"/>
<rect x="889.0" y="378.1" width="2" height="2" rx="0.5" fill="#fff" stroke="none"/>
<rect x="889.0" y="381.2" width="2" height="2" rx="0.5" fill="#fff" stroke="none"/>
<rect x="892.1" y="375.0" width="2" height="2" rx="0.5" fill="#fff" stroke="none"/>
<rect x="892.1" y="378.1" width="2" height="2" rx="0.5" fill="#fff" stroke="none"/>
<rect x="892.1" y="381.2" width="2" height="2" rx="0.5" fill="#fff" stroke="none"/>
<circle cx="885.2" cy="410.3" r="0.9" fill="#2a2e39" stroke="none"/><path d="M885 406.9a3.6 3.6 0 0 1 3.6 3.6M885 404a6.5 6.5 0 0 1 6.5 6.5M885 401.2a9.3 9.3 0 0 1 9.3 9.3" stroke-width="0.9"/>
<path d="M885 432.2h9.4l-1.2-1.6v-3.4a3.5 3.5 0 0 0-7 0v3.4z" stroke-width="0.8"/><path d="M888.5 433.4q1.2 1.4 2.4 0" stroke-width="0.8"/>
<path d="M894 446.4a6 6 0 0 1-8.6 8.3M885.4 454.7a6 6 0 0 1 8.6-8.3" stroke-width="0.8"/><path d="M895.8 444.2l0.9 1.1-0.9 1.1-0.9-1.1zM884 453.4l0.9 1.1-0.9 1.1-0.9-1.1z" fill="#2a2e39" stroke="none"/>
<text x="889.7" y="453" text-anchor="middle" font-size="7" fill="#2a2e39" stroke="none">?</text>
<path d="M142.6 429.8h7.3q0.5 0 0.5 0.5v5.5q0 0.5-0.5 0.5h-3.5M142.6 431.4h7.6M144.7 428.8v1M147.7 428.8v1M141.4 435.3h3.3M143.6 434.1l1.2 1.2-1.2 1.2" stroke-width="0.8"/>
<path d="M860.6 414.1h3.2l1.7 2.9-1.7 2.9h-3.2l-1.7-2.9z" stroke-width="0.7"/><circle cx="862.2" cy="417" r="0.9" fill="#2a2e39" stroke="none"/>
<path d="M846.6 454.9l3.9-3.6 3.9 3.6" stroke-width="0.8"/>
<path d="M863.9 451.6v-1q0-1.2 1.2-1.2h5.6q1.2 0 1.2 1.2v1M871.9 454.4v1q0 1.2-1.2 1.2h-5.6q-1.2 0-1.2-1.2v-1" stroke-width="0.9"/>
<circle cx="805" cy="261.2" r="4.6" fill="#fff" stroke="#5e2d8a" stroke-width="0.8"/><path d="M806 258.5l-2.4 3h2.7l-2.3 2.7" stroke="#6a2d8f" stroke-width="0.9"/>
<circle cx="805" cy="273.3" r="4.6" fill="#fff" stroke="#3a2d6a" stroke-width="0.8"/><text x="805.1" y="275.1" text-anchor="middle" font-size="5" font-weight="700" fill="#2a3a6a" stroke="none">D</text>
<path d="M465.4 277.5v-6l4.1-3 4.1 3v6z" fill="#f3fbfa" stroke="#2f6f6a" stroke-width="0.8"/><text x="469.5" y="276.5" text-anchor="middle" font-size="5.2" font-weight="700" fill="#6a6d78" stroke="none">E</text>
<path d="M7.2 396.5h5.8v6.5h-3v-3.7h-2.8z" fill="#131722" stroke="none"/><circle cx="14.9" cy="397.9" r="1.35" fill="#131722" stroke="none"/><path d="M17.7 396.5h3.4l-3 6.5h-3.4z" fill="#131722" stroke="none"/>
</svg>
</body></html>
